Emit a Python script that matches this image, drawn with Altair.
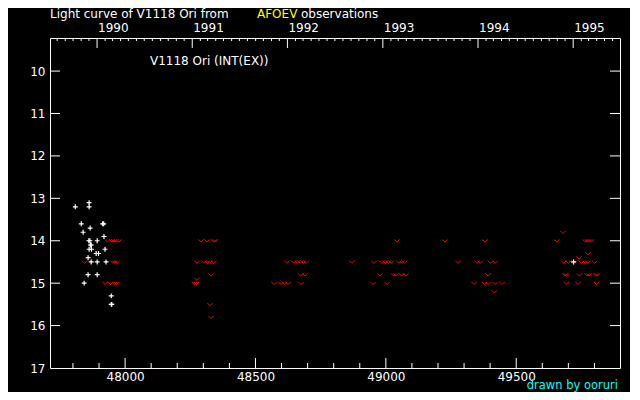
import altair as alt
import pandas as pd

# Visual estimates (JD - 2400000, magnitude)
vis_jd = [47862, 47809, 47862, 47832, 47914, 47918, 47866, 47839, 47919, 47861, 47865,
          47893, 47867, 47870, 47862, 47871, 47923, 47889, 47898, 47858, 47870, 47893,
          47927, 47858, 47893, 47843, 47947, 47947, 47949, 49720]
vis_mag = [13.1, 13.2, 13.2, 13.6, 13.6, 13.6, 13.7, 13.8, 13.9, 14.0, 14.0,
           14.0, 14.1, 14.1, 14.2, 14.2, 14.2, 14.3, 14.3, 14.4, 14.5, 14.5,
           14.5, 14.8, 14.8, 15.0, 15.3, 15.5, 15.5, 14.5]

# Fainter-than limits (JD - 2400000, magnitude)
lim_jd = [47844, 47932, 47950, 47958, 47966, 47976, 47953, 47961, 47970, 47923, 47944, 47960, 47968,
          48291, 48314, 48340, 48346, 48276, 48303, 48315, 48325, 48340, 48330, 48276, 48266, 48274,
          48326, 48330,
          48621, 48648, 48660, 48672, 48684, 48695, 48673, 48690, 48571, 48598, 48612, 48625, 48675,
          49043, 48870, 48955, 48985, 48998, 49010, 49020, 49050, 49062, 49072, 48978, 49030, 49040,
          49060, 49077, 48951, 49005,
          49227, 49380, 49277, 49350, 49362, 49401, 49419, 49392, 49338, 49378, 49392, 49419, 49446,
          49416,
          49679, 49656, 49765, 49773, 49781, 49789, 49775, 49741, 49682, 49700, 49715, 49725, 49750,
          49765, 49775, 49801, 49687, 49693, 49743, 49772, 49780, 49805, 49812, 49692, 49737, 49808]
lim_mag = [14.5, 14.0, 14.0, 14.0, 14.0, 14.0, 14.5, 14.5, 14.5, 15.0, 15.0, 15.0, 15.0,
           14.0, 14.0, 14.0, 14.0, 14.5, 14.5, 14.5, 14.5, 14.5, 14.8, 14.9, 15.0, 15.0,
           15.5, 15.8,
           14.5, 14.5, 14.5, 14.5, 14.5, 14.5, 14.8, 14.8, 15.0, 15.0, 15.0, 15.0, 15.0,
           14.0, 14.5, 14.5, 14.5, 14.5, 14.5, 14.5, 14.5, 14.5, 14.5, 14.8, 14.8, 14.8,
           14.8, 14.8, 15.0, 15.0,
           14.0, 14.0, 14.5, 14.5, 14.5, 14.5, 14.5, 14.8, 15.0, 15.0, 15.0, 15.0, 15.0,
           15.2,
           13.8, 14.0, 14.0, 14.0, 14.0, 14.0, 14.3, 14.4, 14.5, 14.5, 14.5, 14.5, 14.5,
           14.5, 14.5, 14.5, 14.8, 14.8, 14.8, 14.8, 14.8, 14.8, 14.8, 15.0, 15.0, 15.0]

years = [1990, 1991, 1992, 1993, 1994, 1995]
x_major = [48000, 48500, 49000, 49500]
y_ticks = [10, 11, 12, 13, 14, 15, 16, 17]

XMIN, XMAX = 47712, 49898
YMIN, YMAX = 9.22, 17.0
W, H = 570, 330
FONT = "DejaVu Sans"

def jd(ts):
    return pd.Timestamp(ts).to_julian_date() - 2400000

xs = alt.Scale(domain=[XMIN, XMAX], nice=False, zero=False)
ys = alt.Scale(domain=[YMAX, YMIN], nice=False, zero=False)

vis = pd.DataFrame({"jd": vis_jd, "mag": vis_mag})
lim = pd.DataFrame({"jd": lim_jd, "mag": lim_mag})

base_x = alt.X("jd:Q", scale=xs, title=None,
               axis=alt.Axis(values=x_major, ticks=False, domain=False, grid=False,
                             labelColor="white", labelFont=FONT, labelFontSize=12,
                             labelPadding=3, format="d"))
base_y = alt.Y("mag:Q", scale=ys, title=None,
               axis=alt.Axis(values=y_ticks, ticks=False, domain=False, grid=False,
                             labelColor="white", labelFont=FONT, labelFontSize=12,
                             labelPadding=5, format="d"))

lim_layer = alt.Chart(lim).mark_point(
    shape="M-1,-0.5L0,0.5L1,-0.5", filled=False, stroke="red", strokeWidth=1,
    size=30, opacity=1, clip=True
).encode(x=base_x, y=base_y)

vis_layer = alt.Chart(vis).mark_point(
    shape="M-1,0L1,0M0,-1L0,1", filled=False, stroke="white", strokeWidth=1.2,
    size=24, opacity=1, clip=True
).encode(x=alt.X("jd:Q", scale=xs), y=alt.Y("mag:Q", scale=ys))

# bottom ticks
bmin = pd.DataFrame({"jd": [v for v in range(47800, 49900, 100) if v not in x_major]})
bmaj = pd.DataFrame({"jd": x_major})
bot_min = alt.Chart(bmin).mark_rule(color="white").encode(
    x=alt.X("jd:Q", scale=xs), y=alt.value(H), y2=alt.value(H - 5))
bot_maj = alt.Chart(bmaj).mark_rule(color="white").encode(
    x=alt.X("jd:Q", scale=xs), y=alt.value(H), y2=alt.value(H - 10))

# top ticks (months / years)
months = [jd(t) for t in pd.date_range("1989-07-01", "1995-08-01", freq="MS")]
months = [m for m in months if XMIN < m < XMAX]
ystart = [jd(f"{y}-01-01") for y in years]
tmin = pd.DataFrame({"jd": [m for m in months if m not in ystart]})
tmaj = pd.DataFrame({"jd": ystart, "label": [str(y) for y in years]})
top_min = alt.Chart(tmin).mark_rule(color="white").encode(
    x=alt.X("jd:Q", scale=xs), y=alt.value(0), y2=alt.value(3))
top_maj = alt.Chart(tmaj).mark_rule(color="white").encode(
    x=alt.X("jd:Q", scale=xs), y=alt.value(0), y2=alt.value(10))
top_lab = alt.Chart(tmaj).mark_text(
    color="white", font=FONT, fontSize=12, align="left", baseline="alphabetic", dx=1
).encode(x=alt.X("jd:Q", scale=xs), y=alt.value(-6), text="label:N")

# left / right ticks
ydf = pd.DataFrame({"mag": y_ticks[:-1]})
left_t = alt.Chart(ydf).mark_rule(color="white").encode(
    y=alt.Y("mag:Q", scale=ys), x=alt.value(0), x2=alt.value(10))
right_t = alt.Chart(ydf).mark_rule(color="white").encode(
    y=alt.Y("mag:Q", scale=ys), x=alt.value(W), x2=alt.value(W - 10))

def label(text, x, y, color="white", align="left", size=12):
    return alt.Chart(pd.DataFrame({"t": [text]})).mark_text(
        color=color, font=FONT, fontSize=size, align=align, baseline="alphabetic"
    ).encode(x=alt.value(x), y=alt.value(y), text="t:N")

texts = [
    label("Light curve of V1118 Ori from", 0, -20, size=12),
    label("AFOEV", 207, -20, color="yellow", size=12),
    label("observations", 251, -20, size=12),
    label("V1118 Ori (INT(EX))", 100, 27, size=12),
    label("drawn by ooruri", 568, 351, color="cyan", align="right", size=11.5),
]

chart = alt.layer(
    lim_layer, vis_layer, bot_min, bot_maj, top_min, top_maj, top_lab,
    left_t, right_t, *texts
).properties(
    width=W, height=H, background="black",
    padding={"left": 42, "top": 30, "right": 10, "bottom": 24},
    autosize=alt.AutoSizeParams(type="none")
).configure_view(stroke="white", strokeWidth=1)

chart.save("out.html", embed_options={"renderer": "svg", "actions": False})
